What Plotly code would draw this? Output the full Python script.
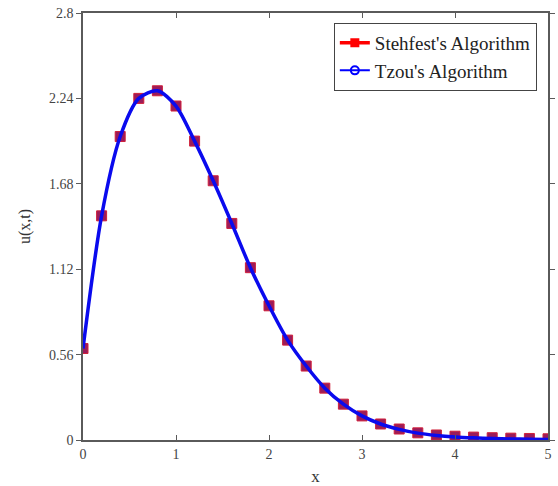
import plotly.graph_objects as go

# Solution u(x,t) sampled along x
x_vals = [0.0, 0.2, 0.4, 0.6, 0.8, 1.0, 1.2, 1.4, 1.6, 1.8, 2.0, 2.2, 2.4,
          2.6, 2.8, 3.0, 3.2, 3.4, 3.6, 3.8, 4.0, 4.2, 4.4, 4.6, 4.8, 5.0]

stehfest_u = [0.60, 1.47, 1.99, 2.24, 2.29, 2.19, 1.96, 1.70, 1.42, 1.13,
              0.88, 0.655, 0.485, 0.34, 0.235, 0.158, 0.105, 0.072, 0.047,
              0.033, 0.025, 0.019, 0.015, 0.012, 0.010, 0.008]

tzou_u = [0.60, 1.47, 1.99, 2.24, 2.29, 2.19, 1.96, 1.70, 1.42, 1.13,
          0.88, 0.655, 0.485, 0.34, 0.235, 0.158, 0.105, 0.070, 0.045,
          0.030, 0.020, 0.014, 0.010, 0.007, 0.005, 0.004]

y_ticks = [0, 0.56, 1.12, 1.68, 2.24, 2.8]
y_tick_text = ["0", "0.56", "1.12", "1.68", "2.24", "2.8"]
x_ticks = [0, 1, 2, 3, 4, 5]

SERIF = "Liberation Serif"
AXIS_GREY = "#5a5a5a"

fig = go.Figure()

# Stehfest samples (plotted marks)
fig.add_trace(go.Scatter(
    x=x_vals, y=stehfest_u, mode="markers", showlegend=False,
    marker=dict(symbol="square", size=10, color="#9a1c5a",
                line=dict(color="#d0203a", width=1)),
))

# Tzou curve on top
fig.add_trace(go.Scatter(
    x=x_vals, y=tzou_u, mode="lines", showlegend=False,
    line=dict(color="#0a0aee", width=3.5, shape="spline", smoothing=0.8),
))

# Legend entries
fig.add_trace(go.Scatter(
    x=[None], y=[None], mode="lines+markers", name="Stehfest's Algorithm",
    line=dict(color="#ff0000", width=3.5),
    marker=dict(symbol="square", size=9, color="#ff0000"),
))
fig.add_trace(go.Scatter(
    x=[None], y=[None], mode="lines+markers", name="Tzou's Algorithm",
    line=dict(color="#0000ff", width=2),
    marker=dict(symbol="circle-open", size=8, color="#0000ff",
                line=dict(width=2)),
))

fig.update_layout(
    width=558, height=486,
    margin=dict(l=83, r=10, t=13, b=46),
    paper_bgcolor="white", plot_bgcolor="white",
    font=dict(family=SERIF, size=13, color="#333333"),
    legend=dict(
        x=0.976, y=0.977, xanchor="right", yanchor="top",
        bgcolor="white", bordercolor="#444444", borderwidth=1,
        font=dict(family=SERIF, size=19, color="#222222"),
        itemwidth=30, tracegroupgap=0,
    ),
)

fig.update_xaxes(
    range=[0, 5], tickvals=x_ticks, ticks="inside", ticklen=5,
    tickcolor=AXIS_GREY, showline=True, linecolor=AXIS_GREY, linewidth=1.5,
    mirror="ticks", showgrid=False, zeroline=False, automargin=False,
    tickfont=dict(family=SERIF, size=14, color="#444444"),
    title=dict(text="x", font=dict(family=SERIF, size=17, color="#333333"),
               standoff=14),
)
fig.update_yaxes(
    range=[0, 2.8], tickvals=y_ticks, ticktext=y_tick_text, ticks="outside",
    ticklen=5, tickcolor=AXIS_GREY, showline=True, linecolor=AXIS_GREY,
    linewidth=1.5, mirror="ticks", showgrid=False, zeroline=False,
    automargin=False,
    tickfont=dict(family=SERIF, size=14, color="#444444"),
    title=dict(text="u(x,t)", font=dict(family=SERIF, size=16, color="#333333"),
               standoff=14),
)

fig.write_html("out.html")
